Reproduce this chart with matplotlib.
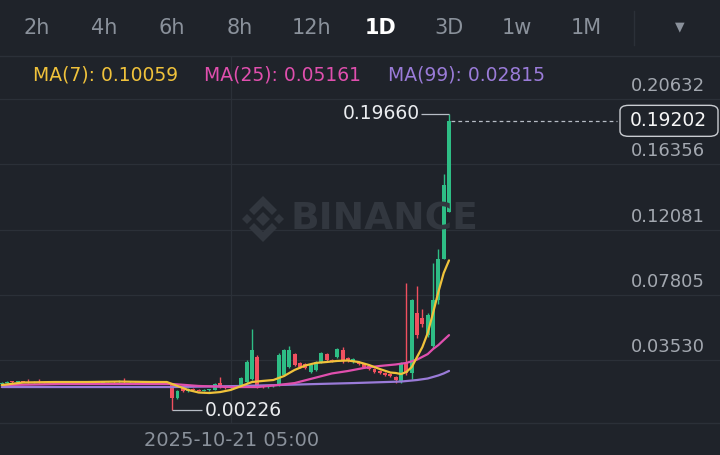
import matplotlib
matplotlib.use('Agg')
import matplotlib.pyplot as plt
from matplotlib.patches import Polygon, FancyBboxPatch
from matplotlib.lines import Line2D
import numpy as np

# Цвета в стиле тёмной темы Binance
BG = '#1f232a'
GRID = '#2b3038'
GREEN = '#2ebd85'
RED = '#f0505f'
C_MA7 = '#f0c23b'
C_MA25 = '#e04fae'
C_MA99 = '#9a7bd8'
TXT_GRAY = '#8a919b'

# --- данные свечей (1D) ---
opens = [.0196, .0203, .0212, .0209, .0214, .0211, .0207, .0210, .0206, .0203,
         .0200, .0203, .0201, .0204, .0206, .0212, .0208, .0205, .0207, .0204,
         .0206, .0209, .0207, .0216, .0208, .0212, .0209, .0211, .0208, .0212,
         .0209, .0207, .0202, .0104, .0170, .0150, .0163, .0155, .0152, .0155,
         .0157, .0202, .0176, .0168, .0172, .0189, .0209, .0229, .0373, .0183,
         .0176, .0180, .0189, .0255, .0307, .0393, .0334, .0327, .0275, .0288,
         .0340, .0393, .0353, .0373, .0419, .0366, .0340, .0340, .0327, .0314,
         .0294, .0281, .0268, .0262, .0242, .0216, .0334, .0268, .0661, .0630,
         .0517, .0445, .0746, .1015, .1323]
closes = [.0203, .0212, .0209, .0214, .0211, .0207, .0210, .0206, .0203, .0200,
          .0203, .0201, .0204, .0206, .0212, .0208, .0205, .0207, .0204, .0206,
          .0209, .0207, .0216, .0208, .0212, .0209, .0211, .0208, .0212, .0209,
          .0207, .0203, .0104, .0150, .0150, .0163, .0155, .0152, .0155, .0160,
          .0196, .0176, .0168, .0172, .0180, .0235, .0340, .0419, .0189, .0176,
          .0180, .0189, .0386, .0419, .0419, .0320, .0307, .0300, .0320, .0340,
          .0399, .0353, .0346, .0425, .0353, .0346, .0360, .0327, .0307, .0294,
          .0275, .0268, .0255, .0249, .0222, .0334, .0268, .0746, .0517, .0589,
          .0648, .0746, .1015, .1500, .19202]
highs = [.0209, .0216, .0216, .0218, .0218, .0229, .0214, .0229, .0209, .0207,
         .0206, .0206, .0207, .0209, .0216, .0214, .0211, .0210, .0209, .0209,
         .0212, .0214, .0222, .0235, .0216, .0214, .0214, .0213, .0216, .0214,
         .0212, .0210, .0205, .0156, .0183, .0168, .0168, .0160, .0160, .0165,
         .0202, .0242, .0180, .0176, .0183, .0242, .0353, .0556, .0386, .0189,
         .0186, .0193, .0399, .0425, .0445, .0399, .0340, .0333, .0327, .0346,
         .0405, .0399, .0360, .0432, .0438, .0373, .0366, .0346, .0333, .0320,
         .0300, .0288, .0275, .0268, .0249, .0340, .0858, .0752, .0838, .0687,
         .0661, .0989, .1080, .1572, .19660]
lows = [.0190, .0200, .0205, .0207, .0208, .0205, .0204, .0203, .0200, .0197,
        .0197, .0198, .0198, .0201, .0203, .0205, .0202, .0202, .0201, .0201,
        .0203, .0204, .0205, .0205, .0205, .0206, .0206, .0205, .0205, .0206,
        .0204, .0200, .00226, .0098, .0146, .0146, .0150, .0148, .0148, .0152,
        .0155, .0170, .0163, .0165, .0168, .0183, .0202, .0222, .0170, .0170,
        .0172, .0176, .0183, .0249, .0300, .0314, .0300, .0294, .0268, .0282,
        .0334, .0346, .0340, .0366, .0334, .0340, .0334, .0320, .0300, .0288,
        .0268, .0262, .0249, .0242, .0202, .0202, .0255, .0229, .0500, .0570,
        .0504, .0432, .0720, .1015, .1323]

ma7_idx = [0, 4, 10, 16, 22, 28, 31, 33, 35, 37, 39, 41, 43, 45, 47, 49, 51, 53, 55, 57,
           59, 61, 63, 65, 67, 69, 71, 73, 74, 75, 76, 77, 78, 79, 80, 81, 82, 83, 84]
ma7_val = [.0189, .0206, .0209, .0209, .0212, .0209, .0209, .0183, .0157, .0140,
           .0137, .0143, .0157, .0183, .0209, .0216, .0222, .0248, .0288, .0317,
           .0334, .0340, .0347, .0350, .0340, .0320, .0294, .0271, .0268, .0261,
           .0275, .0307, .0373, .0438, .0530, .0661, .0799, .0923, .10059]
ma25_idx = [0, 11, 22, 32, 37, 43, 48, 51, 55, 58, 62, 65, 68, 71, 74, 76, 78, 80, 81, 82, 83, 84]
ma25_val = [.0189, .0196, .0196, .0196, .0183, .0176, .0176, .0186, .0202, .0229, .0265,
            .0281, .0301, .0314, .0324, .0334, .0356, .0392, .0425, .0451, .0484, .05161]
ma99_idx = [0, 16, 32, 45, 56, 66, 75, 78, 80, 81, 82, 83, 84]
ma99_val = [.0176, .0176, .0176, .0183, .0193, .0202, .0212, .0222, .0232, .0242, .0252, .0265, .02815]

ma_labels = ['MA(7): 0.10059', 'MA(25): 0.05161', 'MA(99): 0.02815']
price_ticks = [0.03530, 0.07805, 0.12081, 0.16356, 0.20632]
last_price = 0.19202
max_price = 0.19660
min_price = 0.00226
date_label = '2025-10-21 05:00'
date_idx = 43
tabs = ['2h', '4h', '6h', '8h', '12h', '1D', '3D', '1w', '1M']
active_tab = '1D'

W, H = 720, 455


def fx(px):
	return px / W


def fy(py):
	return 1 - py / H


fig = plt.figure(figsize=(W / 100, H / 100), dpi=100)
fig.patch.set_facecolor(BG)

# Основная область графика: от линии под вкладками до оси дат
ax = fig.add_axes([0, fy(423), 1, (423 - 56) / H])
ax.set_facecolor(BG)
ax.set_xlim(-0.338, 134.9)
ax.set_ylim(-0.00596, 0.2345)
for s in ['left', 'right']:
	ax.spines[s].set_visible(False)
for s in ['top', 'bottom']:
	ax.spines[s].set_color(GRID)
	ax.spines[s].set_linewidth(1.0)
ax.tick_params(left=False, bottom=False, labelleft=False, labelbottom=False)

# Сетка
for t in price_ticks:
	ax.axhline(t, color=GRID, lw=0.9, zorder=0)
	ax.annotate(f'{t:.5f}', xy=(1, t), xycoords=ax.get_yaxis_transform(),
	            xytext=(-15, 4), textcoords='offset pixels', ha='right', va='bottom',
	            color='#a3a8b0', fontsize=13)
ax.axvline(date_idx, color=GRID, lw=0.9, zorder=0)

# Водяной знак BINANCE
WM = '#32373f'
fig.text(fx(384), fy(219), 'BINANCE', ha='center', va='center', fontsize=27,
         fontweight='bold', color=WM, zorder=0.5)
cx, cy = 263, 219
logo_shapes = [
	[(0, 7), (7, 0), (0, -7), (-7, 0)],
	[(-16, 5), (-11, 0), (-16, -5), (-21, 0)],
	[(16, 5), (21, 0), (16, -5), (11, 0)],
	[(0, 23), (14, 9), (9, 4), (0, 13), (-9, 4), (-14, 9)],
	[(0, -23), (14, -9), (9, -4), (0, -13), (-9, -4), (-14, -9)],
]
for shp in logo_shapes:
	pts = [(fx(cx + dx), fy(cy - dy)) for dx, dy in shp]
	fig.add_artist(Polygon(pts, closed=True, transform=fig.transFigure,
	                       facecolor=WM, edgecolor='none', zorder=0.5))

# Свечи
idx = np.arange(len(opens))
o = np.array(opens)
c = np.array(closes)
up = c >= o
colors = np.where(up, GREEN, RED)
body_bottom = np.minimum(o, c)
body_h = np.maximum(np.abs(c - o), 0.0005)
ax.vlines(idx, lows, highs, colors=colors, lw=1.0, zorder=2)
ax.bar(idx, body_h, bottom=body_bottom, width=0.74, color=colors, zorder=3)

# Скользящие средние
ax.plot(ma99_idx, ma99_val, color=C_MA99, lw=1.6, zorder=4, solid_capstyle='round')
ax.plot(ma25_idx, ma25_val, color=C_MA25, lw=1.6, zorder=4, solid_capstyle='round')
ax.plot(ma7_idx, ma7_val, color=C_MA7, lw=1.6, zorder=4, solid_capstyle='round')

# Отметки максимума и минимума
i_max = int(np.argmax(highs))
i_min = int(np.argmin(lows))
ax.hlines(max_price, i_max - 5.3, i_max, color='#b7bdc6', lw=0.9, zorder=5)
ax.text(i_max - 5.5, max_price, f'{max_price:.5f}', ha='right', va='center',
        color='#eaecef', fontsize=13.5, zorder=6)
ax.hlines(min_price, i_min, i_min + 5.6, color='#b7bdc6', lw=0.9, zorder=5)
ax.text(i_min + 6.1, min_price, f'{min_price:.5f}', ha='left', va='center',
        color='#eaecef', fontsize=13.5, zorder=6)

# Текущая цена
ax.hlines(last_price, len(opens) - 0.6, 115.6, color='#b7bdc6', lw=0.9,
          linestyles=(0, (3, 2.5)), zorder=5)
y_last = ax.transData.transform((0, last_price))[1]
box = FancyBboxPatch((fx(620), y_last / H - 15.5 / H), 98 / W, 31 / H,
                     boxstyle='round,pad=0,rounding_size=0.012',
                     transform=fig.transFigure, facecolor=BG, edgecolor='#c9ccd1',
                     lw=1.0, zorder=6)
fig.add_artist(box)
fig.text(fx(668), y_last / H, f'{last_price:.5f}', ha='center', va='center',
         color='#f5f5f5', fontsize=13.5, zorder=7)

# Подпись даты
fig.text(fx(232), fy(441), date_label, ha='center', va='center',
         color=TXT_GRAY, fontsize=14)

# Легенда MA
ma_x = [33, 204, 388]
for lbl, col, px in zip(ma_labels, [C_MA7, C_MA25, C_MA99], ma_x):
	fig.text(fx(px), fy(75), lbl, ha='left', va='center', color=col, fontsize=13.5)

# Вкладки интервалов
tab_x = [37, 104, 172, 240, 311, 381, 449, 517, 586]
for name, px in zip(tabs, tab_x):
	is_active = name == active_tab
	fig.text(fx(px), fy(28), name, ha='center', va='center', fontsize=15,
	         color='#ffffff' if is_active else TXT_GRAY,
	         fontweight='bold' if is_active else 'normal')
fig.text(fx(680), fy(27), '\u25BC', ha='center', va='center', fontsize=9, color=TXT_GRAY)
fig.add_artist(Line2D([fx(634), fx(634)], [fy(11), fy(45)], transform=fig.transFigure,
                      color=GRID, lw=1.0))

fig.savefig('out.png', dpi=100, facecolor=BG)
